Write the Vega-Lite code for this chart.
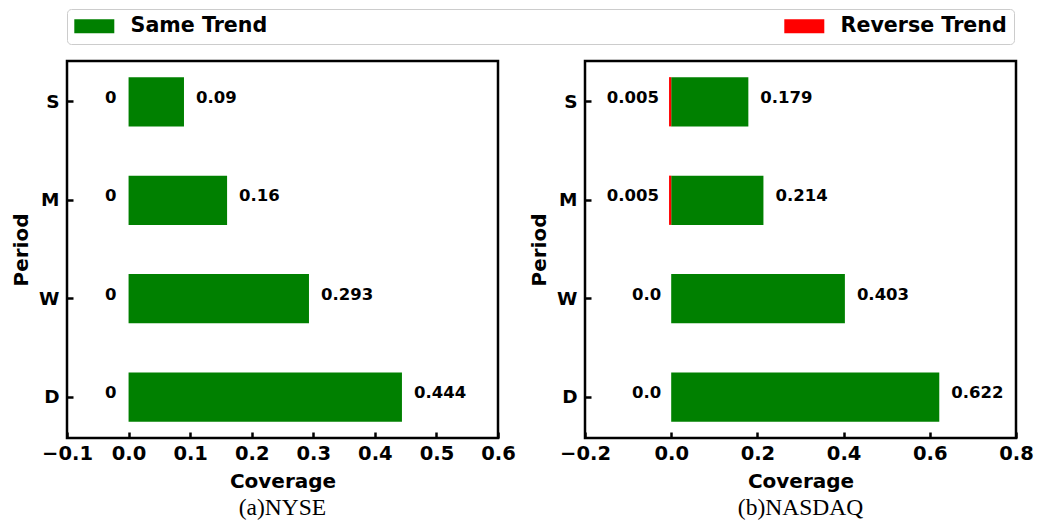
{
  "$schema": "https://vega.github.io/schema/vega-lite/v6.json",
  "background": "white",
  "padding": {"left": 10, "top": 8, "right": 5, "bottom": 3},
  "config": {
    "font": "DejaVu Sans",
    "view": {"stroke": "black", "strokeWidth": 2.5},
    "axis": {"domain": false, "grid": false, "ticks": true, "tickColor": "black", "tickWidth": 2.5, "tickSize": -6,
      "labelOverlap": false, "labelFlush": false,
      "labelFont": "DejaVu Sans", "labelFontWeight": "bold", "labelFontSize": 19.5, "labelColor": "black",
      "titleFont": "DejaVu Sans", "titleFontWeight": "bold", "titleFontSize": 20, "titleColor": "black"},
    "title": {"font": "Liberation Serif", "fontSize": 23.5, "fontWeight": "normal", "orient": "bottom", "offset": 4, "color": "black"}
  },
  "data": {"values": [
    {"market": "NYSE", "period": "S", "trend": "Same Trend", "value": 0.09, "label": "0.09"},
    {"market": "NYSE", "period": "M", "trend": "Same Trend", "value": 0.16, "label": "0.16"},
    {"market": "NYSE", "period": "W", "trend": "Same Trend", "value": 0.293, "label": "0.293"},
    {"market": "NYSE", "period": "D", "trend": "Same Trend", "value": 0.444, "label": "0.444"},
    {"market": "NYSE", "period": "S", "trend": "Reverse Trend", "value": 0, "label": "0"},
    {"market": "NYSE", "period": "M", "trend": "Reverse Trend", "value": 0, "label": "0"},
    {"market": "NYSE", "period": "W", "trend": "Reverse Trend", "value": 0, "label": "0"},
    {"market": "NYSE", "period": "D", "trend": "Reverse Trend", "value": 0, "label": "0"},
    {"market": "NASDAQ", "period": "S", "trend": "Same Trend", "value": 0.179, "label": "0.179"},
    {"market": "NASDAQ", "period": "M", "trend": "Same Trend", "value": 0.214, "label": "0.214"},
    {"market": "NASDAQ", "period": "W", "trend": "Same Trend", "value": 0.403, "label": "0.403"},
    {"market": "NASDAQ", "period": "D", "trend": "Same Trend", "value": 0.622, "label": "0.622"},
    {"market": "NASDAQ", "period": "S", "trend": "Reverse Trend", "value": -0.005, "label": "0.005"},
    {"market": "NASDAQ", "period": "M", "trend": "Reverse Trend", "value": -0.005, "label": "0.005"},
    {"market": "NASDAQ", "period": "W", "trend": "Reverse Trend", "value": 0, "label": "0.0"},
    {"market": "NASDAQ", "period": "D", "trend": "Reverse Trend", "value": 0, "label": "0.0"}
  ]},
  "spacing": 11,
  "resolve": {"scale": {"color": "shared"}},
  "hconcat": [
    {
      "title": "(a)NYSE",
      "width": 431, "height": 377,
      "transform": [{"filter": "datum.market === 'NYSE'"}],
      "encoding": {"y": {"field": "period", "type": "nominal", "sort": ["S", "M", "W", "D"],
        "scale": {"paddingInner": 0.5, "paddingOuter": 0.164},
        "axis": {"title": "Period", "labelAngle": 0, "labelFontSize": 18.5, "labelPadding": 14, "titlePadding": 7}}},
      "layer": [
        {"mark": {"type": "bar"},
         "encoding": {
           "x": {"field": "value", "type": "quantitative", "stack": null,
             "scale": {"domain": [-0.1, 0.6], "nice": false, "zero": false},
             "axis": {"title": "Coverage", "values": [-0.1, 0, 0.1, 0.2, 0.3, 0.4, 0.5, 0.6], "format": ".1f", "labelPadding": 12, "titlePadding": 9}},
           "x2": {"datum": 0},
           "color": {"field": "trend", "type": "nominal",
             "scale": {"domain": ["Same Trend", "Reverse Trend"], "range": ["#008000", "#ff0000"]},
             "legend": {"title": null, "orient": "top", "direction": "horizontal",
               "symbolType": "M-2,-0.7H2V0.7H-2Z", "symbolSize": 400, "symbolStrokeWidth": 0, "symbolOffset": 10,
               "labelFont": "DejaVu Sans", "labelFontSize": 20.6, "labelFontWeight": "bold", "labelColor": "black", "labelLimit": 400,
               "labelOffset": 26, "columnPadding": 516, "padding": 7, "strokeColor": "#cccccc",
               "cornerRadius": 4, "fillColor": "white", "offset": 15}}
         }},
        {"transform": [{"filter": "datum.trend === 'Same Trend'"}],
         "mark": {"type": "text", "align": "left", "baseline": "middle", "dx": 12, "dy": -4, "fontSize": 16.5, "fontWeight": "bold", "font": "DejaVu Sans", "color": "black"},
         "encoding": {"x": {"field": "value", "type": "quantitative"}, "text": {"field": "label"}}},
        {"transform": [{"filter": "datum.trend === 'Reverse Trend'"}],
         "mark": {"type": "text", "align": "right", "baseline": "middle", "dx": -12, "dy": -4, "fontSize": 16.5, "fontWeight": "bold", "font": "DejaVu Sans", "color": "black"},
         "encoding": {"x": {"field": "value", "type": "quantitative"}, "text": {"field": "label"}}}
      ]
    },
    {
      "title": "(b)NASDAQ",
      "width": 431, "height": 377,
      "transform": [{"filter": "datum.market === 'NASDAQ'"}],
      "encoding": {"y": {"field": "period", "type": "nominal", "sort": ["S", "M", "W", "D"],
        "scale": {"paddingInner": 0.5, "paddingOuter": 0.164},
        "axis": {"title": "Period", "labelAngle": 0, "labelFontSize": 18.5, "labelPadding": 14, "titlePadding": 7}}},
      "layer": [
        {"mark": {"type": "bar"},
         "encoding": {
           "x": {"field": "value", "type": "quantitative", "stack": null,
             "scale": {"domain": [-0.2, 0.8], "nice": false, "zero": false},
             "axis": {"title": "Coverage", "values": [-0.2, 0, 0.2, 0.4, 0.6, 0.8], "format": ".1f", "labelPadding": 12, "titlePadding": 9}},
           "x2": {"datum": 0},
           "color": {"field": "trend", "type": "nominal"}
         }},
        {"transform": [{"filter": "datum.trend === 'Same Trend'"}],
         "mark": {"type": "text", "align": "left", "baseline": "middle", "dx": 12, "dy": -4, "fontSize": 16.5, "fontWeight": "bold", "font": "DejaVu Sans", "color": "black"},
         "encoding": {"x": {"field": "value", "type": "quantitative"}, "text": {"field": "label"}}},
        {"transform": [{"filter": "datum.trend === 'Reverse Trend'"}],
         "mark": {"type": "text", "align": "right", "baseline": "middle", "dx": -10, "dy": -4, "fontSize": 16.5, "fontWeight": "bold", "font": "DejaVu Sans", "color": "black"},
         "encoding": {"x": {"field": "value", "type": "quantitative"}, "text": {"field": "label"}}}
      ]
    }
  ]
}
